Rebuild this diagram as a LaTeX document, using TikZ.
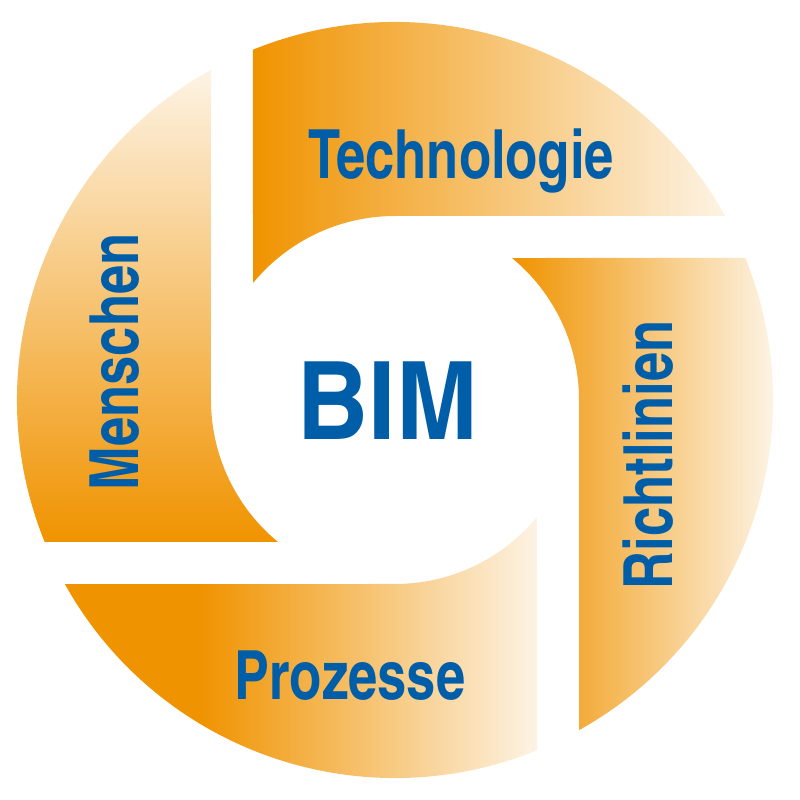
\documentclass[tikz,border=0pt]{standalone}
\usepackage{fontspec}
\newfontfamily\labelfont{texgyreheroscn-bold.otf}[FakeStretch=0.945]
\newfontfamily\bimfont{texgyreheroscn-bold.otf}[FakeStretch=1.11]
\usepackage{tikz}
\definecolor{bimorange}{RGB}{240,147,0}
\definecolor{bimlight}{RGB}{253,243,228}
\definecolor{bimblue}{RGB}{0,94,168}
\def\Ro{3.78}
\def\Ri{1.84}
\newcommand{\segpath}{(112.07:\Ro) arc[start angle=112.07,end angle=29.13,radius=\Ro]
  -- (0,\Ri) arc[start angle=90,end angle=140.51,radius=\Ri] -- cycle}
\tikzset{
segtext/.style={font=\labelfont\fontsize{19.3}{20}\selectfont,text=bimblue,
inner sep=0pt,anchor=base},
bimtext/.style={segtext,font=\bimfont\fontsize{30.8}{32}\selectfont},
ramp/.style={left color=bimorange,right color=bimlight},
}
\begin{document}
\begin{tikzpicture}
\useasboundingbox (-3.95,-4) rectangle (4.05,4);
% Technologie
\begin{scope}
\clip \segpath;
\shade[ramp] (-1.42,1) rectangle (3.30,4);
\end{scope}
% Richtlinien
\begin{scope}
\clip[rotate=-90] \segpath;
\shade[ramp] (1.17,-4) rectangle (3.78,1.6);
\end{scope}
% Prozesse
\begin{scope}
\clip[rotate=180] \segpath;
\fill[bimorange] (-3.95,-4) rectangle (-1.95,-1);
\shade[ramp] (-1.95,-4) rectangle (1.42,-1);
\end{scope}
% Menschen
\begin{scope}
\clip[rotate=90] \segpath;
\shade[bottom color=bimorange,top color=bimlight] (-4,-1.42) rectangle (-1,3.30);
\end{scope}

\node[bimtext] (bim) at (-0.07,-0.40) {BIM};
\node[segtext] (tech) at (0.66,2.21) {Technologie};
\node[segtext,rotate=90] (richt) at (2.77,-0.55) {Richtlinien};
\node[segtext] (proz) at (-0.45,-2.99) {Prozesse};
\node[segtext,rotate=90] (mensch) at (-2.56,0.38) {Menschen};
\end{tikzpicture}
\end{document}
